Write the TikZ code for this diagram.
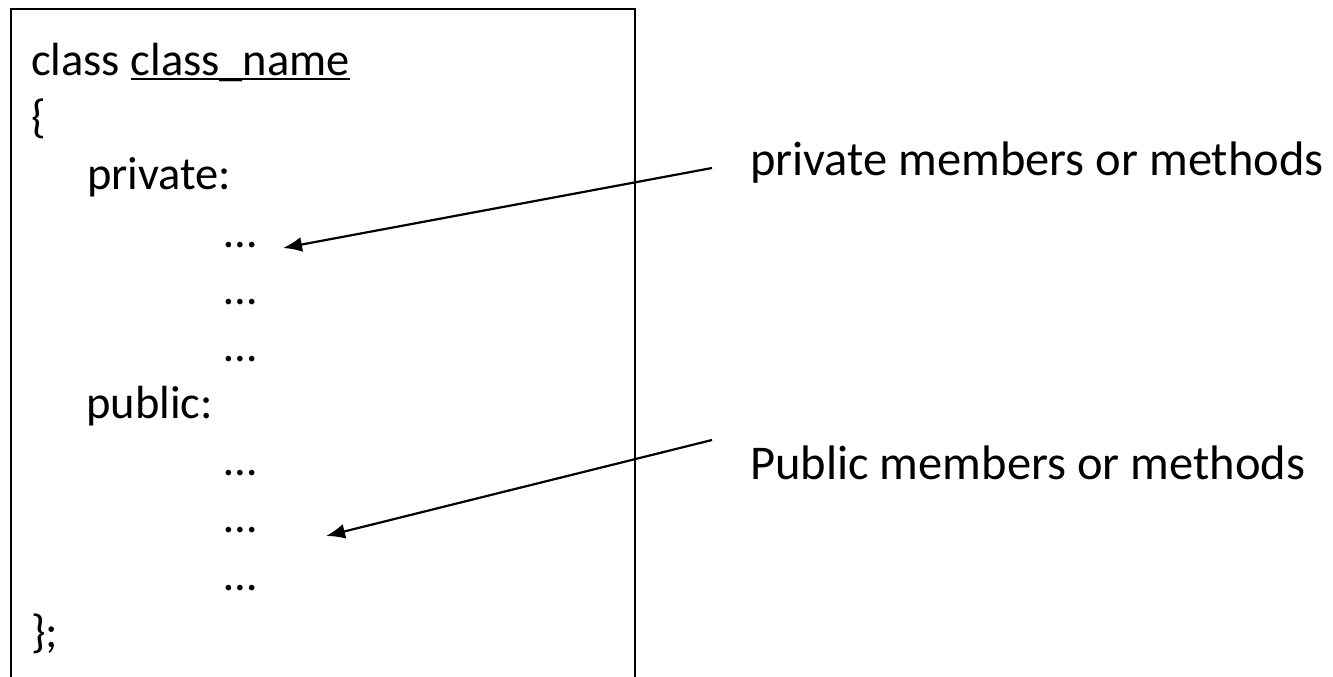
\documentclass[tikz,border=0pt]{standalone}
\usepackage{fontspec}
\setmainfont{Carlito}
\usetikzlibrary{arrows.meta}
\usetikzlibrary{positioning}
\tikzset{code/.style = {anchor=base west, inner sep=0, font=\fontsize{46.5}{55}\selectfont}}
\tikzset{note/.style = {anchor=base west, inner sep=0, font=\fontsize{48.5}{58}\selectfont}}
\tikzset{pointer/.style = {line width=2.2pt, -{Latex[length=19pt, width=15pt]}}}
\newcommand{\ulname}[1]{\setbox0\hbox{#1}\rlap{\rule[-5pt]{\wd0}{2.2pt}}\box0}

\begin{document}
\begin{tikzpicture}[x=1pt, y=-1pt]
      \useasboundingbox (0, 0) rectangle (1333, 677);
      \draw [line width=2pt] (11, 690) -- (11, 9) -- (635, 9) -- (635, 690);

      \node [code] (head) at (31, 75) {class \ulname{class\_name}};
      \node [code] (open) at (31, 132) {\{};
      \node [code] (priv) at (87, 189) {private:};
      \node [code] (pdotsa) at (224, 247) {\dots};
      \node [code] (pdotsb) at (224, 304) {\dots};
      \node [code] (pdotsc) at (224, 361) {\dots};
      \node [code] (pub) at (86, 418) {public:};
      \node [code] (udotsa) at (224, 475) {\dots};
      \node [code] (udotsb) at (224, 532) {\dots};
      \node [code] (udotsc) at (224, 590) {\dots};
      \node [code] (close) at (31, 647) {\};};

      \node [note] (privnote) at (750, 175) {private members or methods};
      \node [note] (pubnote) at (750, 479) {Public members or methods};

      \coordinate (privfrom) at (712, 168);
      \coordinate (pubfrom) at (712, 440);
      \coordinate (privto) at (283, 248);
      \coordinate (pubto) at (326, 536);
      \draw [pointer] (privfrom) -- (privto);
      \draw [pointer] (pubfrom) -- (pubto);
\end{tikzpicture}
\end{document}
